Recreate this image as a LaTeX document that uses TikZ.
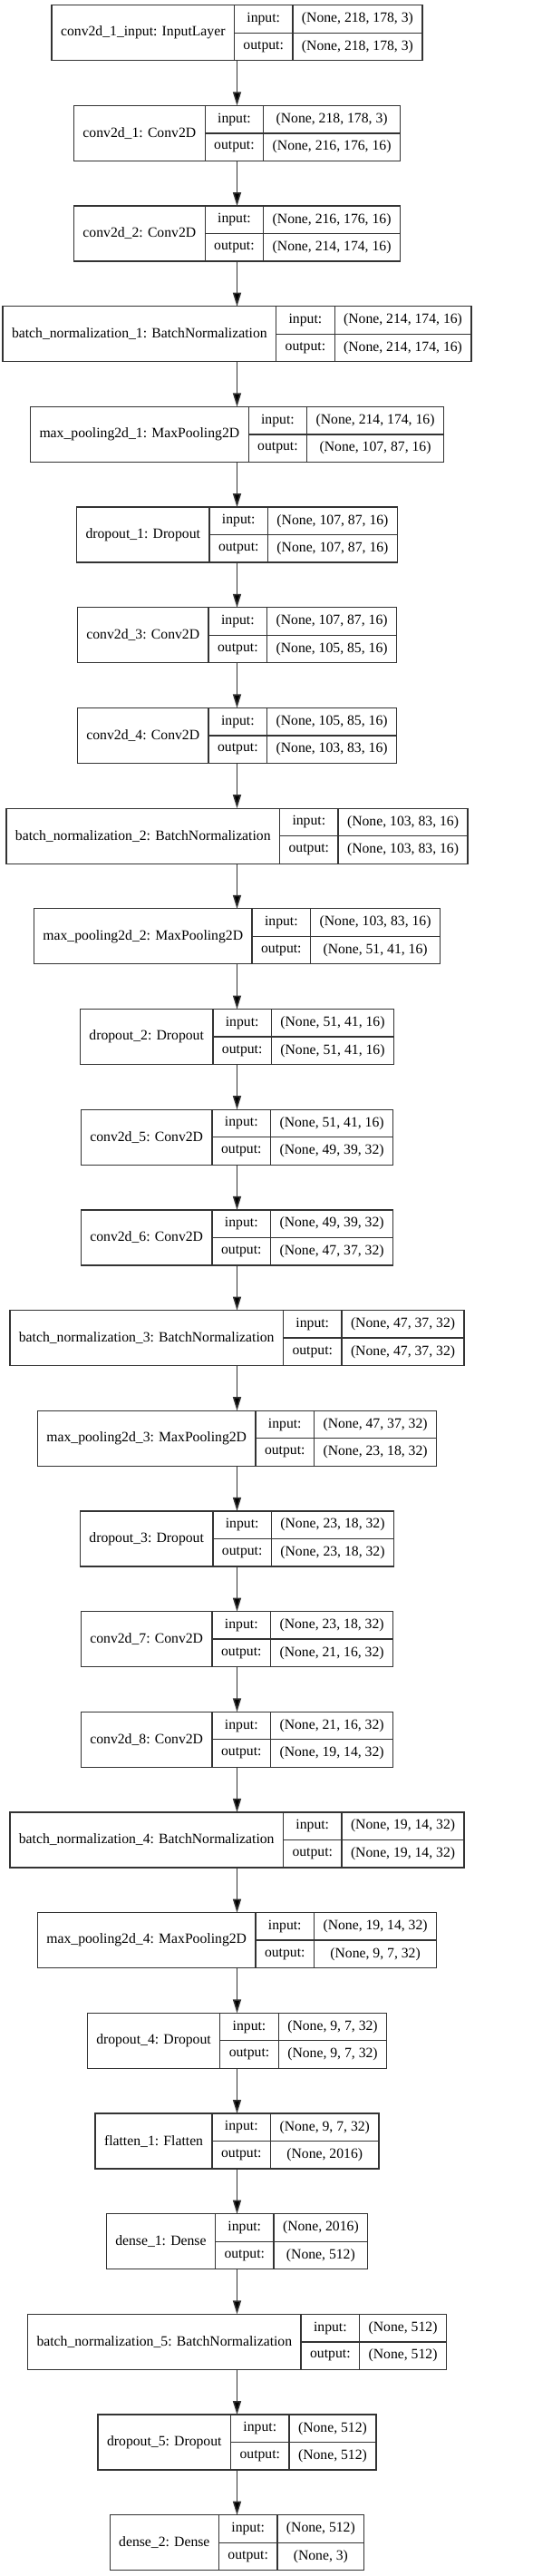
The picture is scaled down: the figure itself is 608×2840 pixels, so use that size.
\documentclass[tikz,border=0pt]{standalone}
\usepackage{fontspec}
\setmainfont{Liberation Serif}
\usetikzlibrary{arrows.meta}

\newcommand{\lfont}{\fontsize{15.7pt}{18pt}\selectfont}
\newlength{\wlab}\newlength{\wkey}\newlength{\wval}\newlength{\wtmp}

% one layer record: index, label, input shape, output shape
\newcommand{\layerbox}[4]{%
  \pgfinterruptpicture
    \settowidth{\wlab}{\lfont #2}\global\wlab=\wlab
    \settowidth{\wkey}{\lfont output:}\global\wkey=\wkey
    \settowidth{\wval}{\lfont #3}\settowidth{\wtmp}{\lfont #4}%
    \ifdim\wtmp>\wval\wval=\wtmp\fi
    \global\wval=\wval
  \endpgfinterruptpicture
  \addtolength{\wlab}{20pt}\addtolength{\wkey}{20pt}\addtolength{\wval}{20pt}%
  \pgfmathsetmacro{\ytop}{-5.7-110.68*(#1-1)}%
  \node[cell, minimum width=\wlab+\wkey+\wval, minimum height=61pt, anchor=north] (layer#1) at (261.5pt,\ytop pt) {};
  \node[cell, minimum width=\wlab, minimum height=61pt, anchor=north west] (layer#1-name) at (layer#1.north west) {#2};
  \node[cell, minimum width=\wkey, minimum height=30.5pt, anchor=north west] (layer#1-ki) at (layer#1-name.north east) {input:};
  \node[cell, minimum width=\wkey, minimum height=30.5pt, anchor=north west] (layer#1-ko) at (layer#1-ki.south west) {output:};
  \node[cell, minimum width=\wval, minimum height=30.5pt, anchor=north west] (layer#1-vi) at (layer#1-ki.north east) {#3};
  \node[cell, minimum width=\wval, minimum height=30.5pt, anchor=north west] (layer#1-vo) at (layer#1-vi.south west) {#4};
}

\begin{document}
\begin{tikzpicture}[
  cell/.style={draw=black!80, line width=1.3pt, inner sep=0pt, outer sep=0pt, font=\lfont},
  link/.style={draw=black!80, line width=1.5pt, -{Triangle[length=15pt,width=9pt,fill=black]}}
]
\useasboundingbox (0,0) rectangle (608pt,-2840pt);

\layerbox{1}{conv2d\_1\_input: InputLayer}{(None, 218, 178, 3)}{(None, 218, 178, 3)}
\layerbox{2}{conv2d\_1: Conv2D}{(None, 218, 178, 3)}{(None, 216, 176, 16)}
\layerbox{3}{conv2d\_2: Conv2D}{(None, 216, 176, 16)}{(None, 214, 174, 16)}
\layerbox{4}{batch\_normalization\_1: BatchNormalization}{(None, 214, 174, 16)}{(None, 214, 174, 16)}
\layerbox{5}{max\_pooling2d\_1: MaxPooling2D}{(None, 214, 174, 16)}{(None, 107, 87, 16)}
\layerbox{6}{dropout\_1: Dropout}{(None, 107, 87, 16)}{(None, 107, 87, 16)}
\layerbox{7}{conv2d\_3: Conv2D}{(None, 107, 87, 16)}{(None, 105, 85, 16)}
\layerbox{8}{conv2d\_4: Conv2D}{(None, 105, 85, 16)}{(None, 103, 83, 16)}
\layerbox{9}{batch\_normalization\_2: BatchNormalization}{(None, 103, 83, 16)}{(None, 103, 83, 16)}
\layerbox{10}{max\_pooling2d\_2: MaxPooling2D}{(None, 103, 83, 16)}{(None, 51, 41, 16)}
\layerbox{11}{dropout\_2: Dropout}{(None, 51, 41, 16)}{(None, 51, 41, 16)}
\layerbox{12}{conv2d\_5: Conv2D}{(None, 51, 41, 16)}{(None, 49, 39, 32)}
\layerbox{13}{conv2d\_6: Conv2D}{(None, 49, 39, 32)}{(None, 47, 37, 32)}
\layerbox{14}{batch\_normalization\_3: BatchNormalization}{(None, 47, 37, 32)}{(None, 47, 37, 32)}
\layerbox{15}{max\_pooling2d\_3: MaxPooling2D}{(None, 47, 37, 32)}{(None, 23, 18, 32)}
\layerbox{16}{dropout\_3: Dropout}{(None, 23, 18, 32)}{(None, 23, 18, 32)}
\layerbox{17}{conv2d\_7: Conv2D}{(None, 23, 18, 32)}{(None, 21, 16, 32)}
\layerbox{18}{conv2d\_8: Conv2D}{(None, 21, 16, 32)}{(None, 19, 14, 32)}
\layerbox{19}{batch\_normalization\_4: BatchNormalization}{(None, 19, 14, 32)}{(None, 19, 14, 32)}
\layerbox{20}{max\_pooling2d\_4: MaxPooling2D}{(None, 19, 14, 32)}{(None, 9, 7, 32)}
\layerbox{21}{dropout\_4: Dropout}{(None, 9, 7, 32)}{(None, 9, 7, 32)}
\layerbox{22}{flatten\_1: Flatten}{(None, 9, 7, 32)}{(None, 2016)}
\layerbox{23}{dense\_1: Dense}{(None, 2016)}{(None, 512)}
\layerbox{24}{batch\_normalization\_5: BatchNormalization}{(None, 512)}{(None, 512)}
\layerbox{25}{dropout\_5: Dropout}{(None, 512)}{(None, 512)}
\layerbox{26}{dense\_2: Dense}{(None, 512)}{(None, 3)}

% arrows between the layers
\foreach \i in {1,...,25}{
  \pgfmathtruncatemacro{\j}{\i+1}
  \draw[link] (layer\i) -- (layer\j);
}

\end{tikzpicture}
\end{document}
